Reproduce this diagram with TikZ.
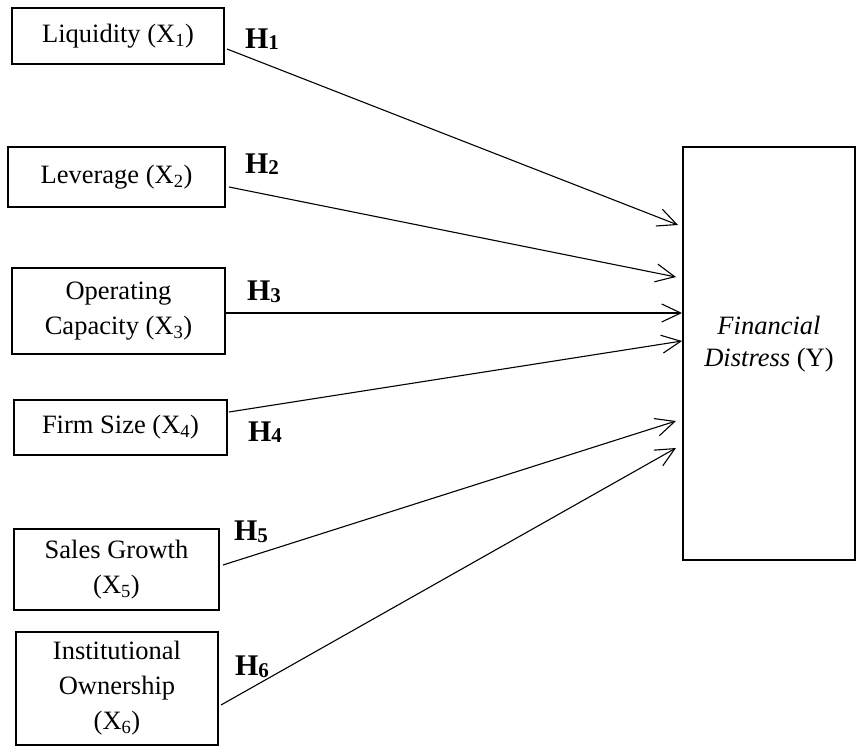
\documentclass[tikz,border=0pt]{standalone}
\usepackage{fontspec}
\setmainfont{Liberation Serif}
\usetikzlibrary{arrows.meta,calc}
\newcommand{\hsub}[1]{\raisebox{-0.05em}{\fontsize{21}{21}\selectfont #1}}
\begin{document}
\begin{tikzpicture}[x=1pt,y=-1pt,
  var/.style={draw, line width=2pt, align=center, inner sep=0pt, font=\fontsize{26.5}{35}\selectfont},
  hyp/.style={font=\fontsize{30}{30}\selectfont\bfseries, inner sep=0pt},
  link/.style={line width=1.1pt, -{Straight Barb[length=19pt,width=18pt,line width=1.1pt]}}]
\useasboundingbox (0,0) rectangle (856,751);
\node[var, minimum width=212pt, minimum height=56pt] (b1) at (118,36) {Liquidity (X\textsubscript{1})};
\node[var, minimum width=217pt, minimum height=60pt] (b2) at (116.5,177) {Leverage (X\textsubscript{2})};
\node[var, minimum width=213pt, minimum height=86pt] (b3) at (118.5,311) {Operating\\Capacity (X\textsubscript{3})};
\node[var, minimum width=213pt, minimum height=55pt] (b4) at (120.5,427.5) {Firm Size (X\textsubscript{4})};
\node[var, minimum width=205pt, minimum height=81pt] (b5) at (116.5,569.5) {Sales Growth\\(X\textsubscript{5})};
\node[var, minimum width=202pt, minimum height=113pt] (b6) at (117,688.5) {Institutional\\Ownership\\(X\textsubscript{6})};
\node[draw, line width=2pt, minimum width=172pt, minimum height=413pt, inner sep=0pt] (Y) at (769,353.5) {};
\node[align=center, inner sep=0pt, font=\fontsize{26.5}{32}\selectfont] (ytext) at ($(Y.center)+(0,-9)$) {\textit{Financial}\\\textit{Distress} (Y)};
\draw[link] ($(b1.east)+(2,13)$) -- ($(Y.west)+(-4,-128.5)$);
\draw[link] ($(b2.east)+(3,10)$) -- ($(Y.west)+(-6,-76.5)$);
\draw[link] ($(b3.east)+(0,2)$) -- ($(Y.west)+(0,-40.5)$);
\draw[link] ($(b4.east)+(1,-15.5)$) -- ($(Y.west)+(0,-12.5)$);
\draw[link] ($(b5.east)+(3,-4.5)$) -- ($(Y.west)+(-6,67.5)$);
\draw[link] ($(b6.east)+(2,16.5)$) -- ($(Y.west)+(-6,94.5)$);
\node[hyp] (h1) at (262,39) {H\hsub{1}};
\node[hyp] (h2) at (262,164) {H\hsub{2}};
\node[hyp] (h3) at (264,292) {H\hsub{3}};
\node[hyp] (h4) at (265,432) {H\hsub{4}};
\node[hyp] (h5) at (251,532) {H\hsub{5}};
\node[hyp] (h6) at (252,667) {H\hsub{6}};
\end{tikzpicture}
\end{document}
